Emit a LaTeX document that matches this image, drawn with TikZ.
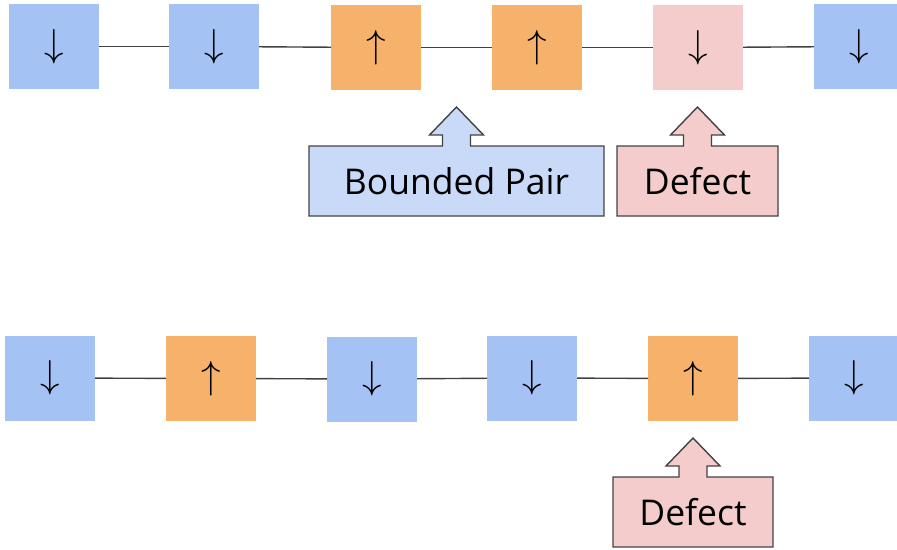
\documentclass[tikz,border=0pt]{standalone}
\usepackage{fontspec}
\usepackage{graphicx}
\setmainfont{Open Sans}
\usetikzlibrary{calc,backgrounds}

\definecolor{spinblue}{HTML}{A4C2F4}
\definecolor{spinorange}{HTML}{F6B26B}
\definecolor{defectpink}{HTML}{F4CCCC}
\definecolor{pairblue}{HTML}{C9DAF8}
\definecolor{edgegray}{HTML}{434343}
\definecolor{bondgray}{HTML}{404040}

% spin glyphs, set in Latin Modern math and enlarged
\newcommand{\spindown}{\raisebox{3.5pt}{\scalebox{3.9}{$\downarrow$}}}
\newcommand{\spinup}{\raisebox{-3pt}{\scalebox{3.9}{$\uparrow$}}}

% up-pointing callout outline around a label node
\newcommand{\upcallout}[2]{%
  \begin{scope}[on background layer]
    \filldraw[calloutline, fill=#2]
      (#1.north west) -- ($(#1.north)+(-14,0)$) -- ($(#1.north)+(-14,-11)$)
      -- ($(#1.north)+(-27,-11)$) -- ($(#1.north)+(0,-39)$)
      -- ($(#1.north)+(27,-11)$) -- ($(#1.north)+(14,-11)$)
      -- ($(#1.north)+(14,0)$) -- (#1.north east) -- (#1.south east)
      -- (#1.south west) -- cycle;
  \end{scope}}

\tikzset{
  x=1pt, y=-1pt,
  site/.style={minimum width=90pt, minimum height=85pt, inner sep=0pt, outer sep=0pt},
  downsite/.style={site, fill=spinblue},
  upsite/.style={site, fill=spinorange},
  defectsite/.style={site, fill=defectpink},
  bond/.style={draw=bondgray, line width=1.4pt},
  calloutline/.style={draw=edgegray, line width=1.4pt, line join=miter},
  label/.style={inner sep=0pt, outer sep=0pt, minimum height=70pt,
                font=\fontsize{35.5}{40}\selectfont},
}

\begin{document}
\begin{tikzpicture}
  \useasboundingbox (0,0) rectangle (897,549);
  \clip (0,0) rectangle (897,549);

  % upper chain
  \node[downsite]   (a1) at (54,46.5)  {\spindown};
  \node[downsite]   (a2) at (214,46.5) {\spindown};
  \node[upsite]     (a3) at (376,47.5) {\spinup};
  \node[upsite]     (a4) at (537,47.5) {\spinup};
  \node[defectsite] (a5) at (698,47.5) {\spindown};
  \node[downsite]   (a6) at (859,46.5) {\spindown};
  \foreach \i/\j in {a1/a2,a2/a3,a3/a4,a4/a5,a5/a6}
    \draw[bond] (\i) -- (\j);

  % lower chain
  \node[downsite] (b1) at (50,378)  {\spindown};
  \node[upsite]   (b2) at (211,378.5) {\spinup};
  \node[downsite] (b3) at (372,379) {\spindown};
  \node[downsite] (b4) at (532,378) {\spindown};
  \node[upsite]   (b5) at (693,378.5) {\spinup};
  \node[downsite] (b6) at (854,378) {\spindown};
  \foreach \i/\j in {b1/b2,b2/b3,b3/b4,b4/b5,b5/b6}
    \draw[bond] (\i) -- (\j);

  % callouts
  \node[label, minimum width=295pt] (pair) at (456.5,181) {Bounded Pair};
  \upcallout{pair}{pairblue}
  \node[label, minimum width=161pt] (def1) at (697.5,181) {Defect};
  \upcallout{def1}{defectpink}
  \node[label, minimum width=160pt] (def2) at (693,512) {Defect};
  \upcallout{def2}{defectpink}
\end{tikzpicture}
\end{document}
